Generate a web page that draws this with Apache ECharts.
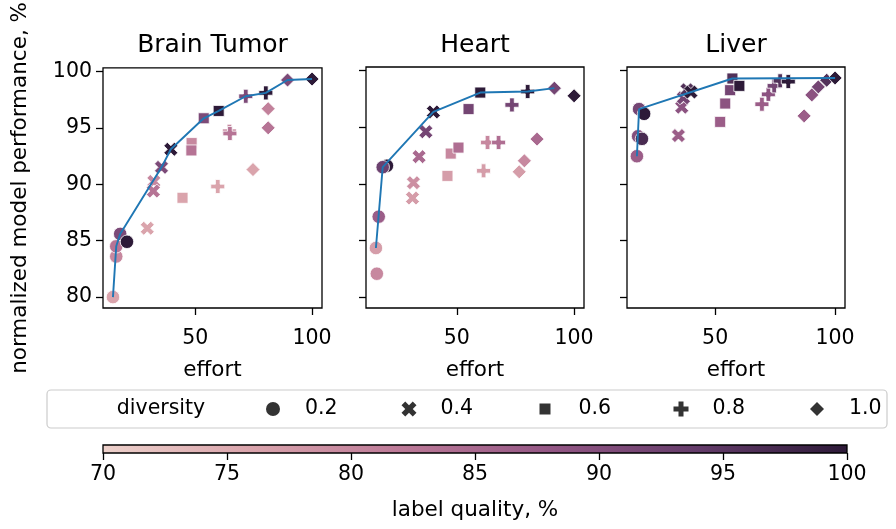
<!DOCTYPE html>
<html><head><meta charset="utf-8">
<script src="https://cdn.jsdelivr.net/npm/echarts@6/dist/echarts.min.js"></script>
<style>html,body{margin:0;padding:0;background:#fff}#c{width:896px;height:529px}</style>
</head><body><div id="c"></div>
<script>
// ---------- DATA ----------
const diversityLabels = ['0.2', '0.4', '0.6', '0.8', '1.0'];
const panelTitles = ['Brain Tumor', 'Heart', 'Liver'];
const perfTicks = [80, 85, 90, 95, 100];
const effortTicks = [50, 100];

// rows = diversity 0.2 .. 1.0 ; columns = individual runs
const brainEffort = [
  [14.7, 16.1, 16.1, 17.8, 20.7],
  [29.4, 32.2, 32.0, 35.5, 39.5],
  [44.5, 48.4, 48.3, 53.6, 60.0],
  [59.6, 64.6, 64.8, 71.6, 80.2],
  [74.7, 81.2, 81.2, 89.5, 100.0]
];
const brainPerf = [
  [80.0, 83.6, 84.5, 85.6, 84.9],
  [86.1, 90.25, 89.4, 91.5, 93.1],
  [88.8, 93.65, 93.0, 95.85, 96.5],
  [89.8, 94.7, 94.5, 97.8, 98.1],
  [91.3, 96.7, 95.0, 99.24, 99.33]
];
const brainQuality = [
  [76, 80, 83, 91, 100],
  [76, 80, 83, 91, 100],
  [76, 80, 83, 91, 100],
  [76, 80, 83, 91, 100],
  [76, 81, 83, 91, 100]
];
const brainFrontEffort = [14.7, 16.1, 17.8, 35.5, 39.5, 53.6, 60.0, 71.6, 80.2, 89.5, 100.0];
const brainFrontPerf = [80.0, 84.5, 85.6, 91.5, 93.1, 95.85, 96.5, 97.8, 98.1, 99.24, 99.33];

const heartEffort = [
  [15.9, 15.5, 16.7, 20.2, 18.4],
  [31.1, 31.5, 33.9, 36.8, 40.0],
  [46.0, 47.4, 50.7, 55.0, 60.0],
  [61.4, 63.1, 67.8, 73.5, 80.2],
  [76.6, 78.8, 84.2, 91.6, 100.0]
];
const heartPerf = [
  [82.06, 84.33, 87.1, 91.6, 91.47],
  [88.74, 90.1, 92.4, 94.6, 96.35],
  [90.7, 92.67, 93.2, 96.6, 98.06],
  [91.15, 93.65, 93.65, 96.97, 98.15],
  [91.06, 92.03, 93.95, 98.45, 97.77]
];
const heartQuality = [
  [80, 77, 87, 100, 93],
  [77, 79, 85, 92, 100],
  [77, 80, 84, 92, 100],
  [77, 80, 84, 92, 100],
  [77, 80, 85, 92, 100]
];
const heartFrontEffort = [15.5, 18.4, 40.0, 60.0, 80.2, 91.6];
const heartFrontPerf = [84.33, 91.47, 96.35, 98.06, 98.15, 98.45];

const liverEffort = [
  [17.4, 17.9, 19.5, 18.3, 20.4],
  [34.7, 36.1, 36.8, 38.3, 39.9],
  [52.1, 54.2, 56.25, 57.2, 60.1],
  [69.5, 72.2, 74.6, 77.1, 80.5],
  [87.1, 90.3, 93.0, 96.5, 100.0]
];
const liverPerf = [
  [92.44, 94.2, 93.97, 96.6, 96.18],
  [94.26, 96.77, 97.6, 98.3, 98.1],
  [95.47, 97.09, 98.27, 99.3, 98.65],
  [97.03, 97.9, 98.65, 99.1, 99.03],
  [96.0, 97.85, 98.56, 99.15, 99.35]
];
const liverQuality = [
  [87, 90, 97, 92, 100],
  [87, 89, 92, 96, 100],
  [87, 89, 92, 96, 100],
  [87, 89, 92, 96, 100],
  [87, 89, 92, 96, 100]
];
const liverFrontEffort = [17.4, 18.3, 57.2, 100.0];
const liverFrontPerf = [92.44, 96.6, 99.3, 99.35];

// ---------- STYLE ----------
const FONT = 'DejaVu Sans';
const palette = ['#edd1cb', '#daa4ac', '#bd7a98', '#945785', '#643c6a', '#2d1a38'];
const X_PATH = 'path://M0.25,0L0.5,0.25L0.75,0L1,0.25L0.75,0.5L1,0.75L0.75,1L0.5,0.75L0.25,1L0,0.75L0.25,0.5L0,0.25Z';
const P_PATH = 'path://M1,0H2V1H3V2H2V3H1V2H0V1H1Z';
const symbols = ['circle', X_PATH, 'rect', P_PATH, 'diamond'];
const symbolSizes = [13.5, 14, 11, 14, 14];
const legendSizes = [14, 15, 11, 15, 14];

const panels = [
  {effort: brainEffort, perf: brainPerf, q: brainQuality, fx: brainFrontEffort, fy: brainFrontPerf},
  {effort: heartEffort, perf: heartPerf, q: heartQuality, fx: heartFrontEffort, fy: heartFrontPerf},
  {effort: liverEffort, perf: liverPerf, q: liverQuality, fx: liverFrontEffort, fy: liverFrontPerf}
];

const gridBoxes = [
  {left: 103, top: 67, width: 219, height: 241},
  {left: 366, top: 67, width: 218, height: 241},
  {left: 627, top: 67, width: 218, height: 241}
];

function rangeOf(arrs) {
  let mn = Infinity, mx = -Infinity;
  arrs.forEach(r => r.forEach(v => { mn = Math.min(mn, v); mx = Math.max(mx, v); }));
  const m = (mx - mn) * 0.05;
  return [mn - m, mx + m];
}
const yRange = rangeOf([].concat(brainPerf, heartPerf, liverPerf));

const grid = gridBoxes.map(b => Object.assign({}, b, {
  show: true, borderColor: '#000', borderWidth: 1.3, backgroundColor: 'transparent'
}));
grid.push({
  left: 103, top: 445, width: 744, height: 8, show: true, borderColor: '#000', borderWidth: 1.3,
  backgroundColor: {
    type: 'linear', x: 0, y: 0, x2: 1, y2: 0,
    colorStops: palette.map((c, i) => ({offset: i / (palette.length - 1), color: c}))
  }
});

const TICK = 20.5, LABEL = 21.5;
const xAxis = panels.map((p, i) => {
  const r = rangeOf(p.effort);
  return {
    gridIndex: i, type: 'value', min: r[0], max: r[1],
    axisLine: {show: false},
    splitLine: {show: false},
    axisTick: {show: true, customValues: effortTicks, length: 7, lineStyle: {color: '#000', width: 1.3}},
    axisLabel: {customValues: effortTicks, color: '#000', fontSize: TICK, fontFamily: FONT, margin: 20},
    name: 'effort', nameLocation: 'middle', nameGap: 51,
    nameTextStyle: {color: '#000', fontSize: LABEL, fontFamily: FONT}
  };
});
xAxis.push({
  gridIndex: 3, type: 'value', min: 70, max: 100, interval: 5,
  axisLine: {show: false}, splitLine: {show: false},
  axisTick: {show: true, length: 7, lineStyle: {color: '#000', width: 1.3}},
  axisLabel: {color: '#000', fontSize: TICK, fontFamily: FONT, margin: 11},
  name: 'label quality, %', nameLocation: 'middle', nameGap: 46,
  nameTextStyle: {color: '#000', fontSize: LABEL, fontFamily: FONT}
});

const yAxis = panels.map((p, i) => ({
  gridIndex: i, type: 'value', min: yRange[0], max: yRange[1],
  axisLine: {show: false}, splitLine: {show: false},
  axisTick: {show: true, customValues: perfTicks, length: 7, lineStyle: {color: '#000', width: 1.3}},
  axisLabel: {show: i === 0, customValues: perfTicks, color: '#000', fontSize: TICK, fontFamily: FONT, margin: 11},
  name: i === 0 ? 'normalized model performance, %' : '',
  nameLocation: 'middle', nameGap: 72, nameRotate: 90,
  nameTextStyle: {color: '#000', fontSize: LABEL, fontFamily: FONT}
}));
yAxis.push({gridIndex: 3, type: 'value', min: 0, max: 1, show: false});

const series = [];
const scatterIdx = [];
panels.forEach((p, pi) => {
  diversityLabels.forEach((d, di) => {
    scatterIdx.push(series.length);
    series.push({
      name: d, type: 'scatter', xAxisIndex: pi, yAxisIndex: pi,
      symbol: symbols[di], symbolSize: symbolSizes[di],
      data: p.effort[di].map((e, k) => [e, p.perf[di][k], p.q[di][k]]),
      itemStyle: {borderColor: '#fff', borderWidth: 0.8, opacity: 1},
      emphasis: {disabled: true}, z: 2
    });
  });
});
panels.forEach((p, pi) => {
  series.push({
    name: 'frontier', type: 'line', xAxisIndex: pi, yAxisIndex: pi,
    data: p.fx.map((e, k) => [e, p.fy[k]]),
    symbol: 'none', showSymbol: false, silent: true,
    lineStyle: {color: '#1f77b4', width: 1.9}, z: 3
  });
});

const legendCenterY = 409;
const legend = diversityLabels.map((d, i) => ({
  data: [{name: d, icon: symbols[i], itemStyle: {color: '#333333', borderWidth: 0}}],
  left: 273 + 136 * i - legendSizes[i] / 2,
  top: legendCenterY - 12,
  itemWidth: legendSizes[i], itemHeight: legendSizes[i],
  padding: 0, selectedMode: false,
  textStyle: {color: '#000', fontSize: TICK, fontFamily: FONT, padding: [0, 0, 0, 34 - legendSizes[i]], lineHeight: 24, height: 24}
}));

const graphic = [
  {type: 'rect', shape: {x: 47, y: 390, width: 840, height: 38, r: 4}, style: {fill: '#fff', stroke: '#cccccc', lineWidth: 1.2}, z: -1, silent: true},
  {type: 'text', x: 161, y: legendCenterY, style: {text: 'diversity', fill: '#000', font: TICK + 'px "DejaVu Sans"', textAlign: 'center', textVerticalAlign: 'middle'}, silent: true}
];
gridBoxes.forEach((b, i) => {
  graphic.push({type: 'text', x: b.left + b.width / 2, y: 45,
    style: {text: panelTitles[i], fill: '#000', font: '25px "DejaVu Sans"', textAlign: 'center', textVerticalAlign: 'middle'}, silent: true});
});

const chart = echarts.init(document.getElementById('c'), null, {renderer: 'canvas'});
chart.setOption({
  animation: false,
  backgroundColor: '#fff',
  textStyle: {fontFamily: FONT},
  grid, xAxis, yAxis, series, legend, graphic,
  visualMap: {
    type: 'continuous', show: false, min: 70, max: 100, dimension: 2,
    seriesIndex: scatterIdx, inRange: {color: palette}
  }
});
</script></body></html>
